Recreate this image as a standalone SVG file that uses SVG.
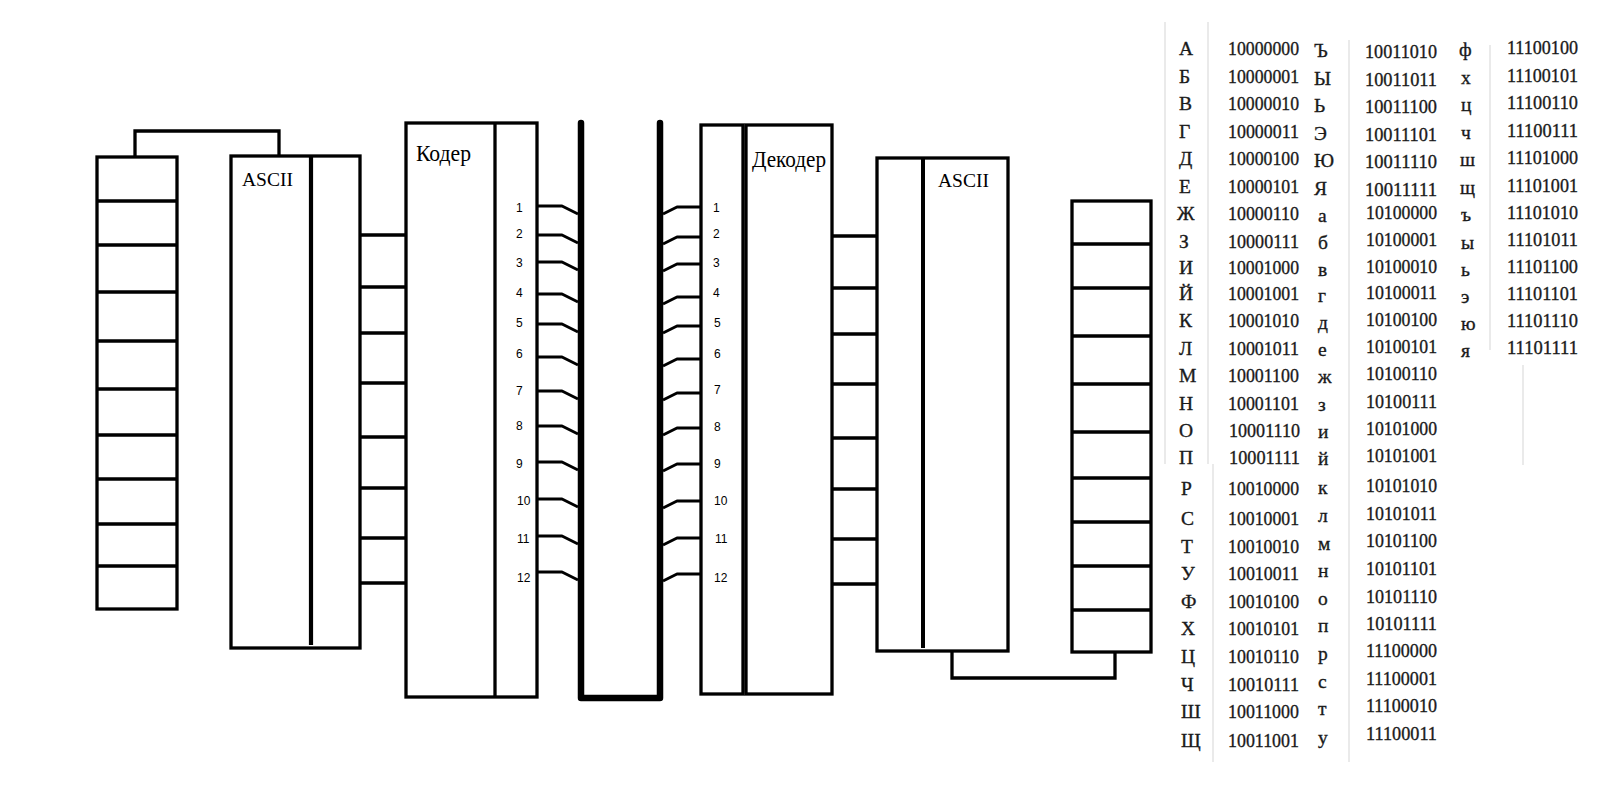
<svg xmlns="http://www.w3.org/2000/svg" width="1600" height="800" viewBox="0 0 1600 800">
<style>
.b{fill:none;stroke:#000;stroke-width:3.3}
.w{fill:none;stroke:#000;stroke-width:3;stroke-linejoin:round}
.ch{fill:none;stroke:#000;stroke-width:6.5;stroke-linecap:round;stroke-linejoin:round}
.f{fill:none;stroke:#e4e4e4;stroke-width:1.5}
.lbl{font-family:"Liberation Serif","Times New Roman",serif;fill:#000}
.pin{font-family:"Liberation Sans",Arial,sans-serif;font-size:12px;fill:#000}
.tb{font-family:"Liberation Serif","Times New Roman",serif;font-size:19.5px;fill:#1a1a1a;stroke:#1a1a1a;stroke-width:0.35}
</style>
<rect width="1600" height="800" fill="#fff"/>

<g id="keyboard-in">
<rect class="b" x="97" y="157" width="80" height="452"/>
<path class="b" d="M97,201H177M97,245H177M97,292H177M97,341H177M97,389H177M97,435H177M97,479H177M97,524H177M97,566H177"/>
</g>

<g id="ascii-in">
<rect class="b" x="231" y="156" width="129" height="492"/>
<path d="M311,156V645" stroke="#000" stroke-width="4.2" fill="none"/>
<text class="lbl" x="242" y="186" font-size="19.5">ASCII</text>
</g>

<g id="coder">
<rect class="b" x="406" y="123" width="131" height="574"/>
<path class="b" d="M495,123V697"/>
<text class="lbl" x="416" y="161" font-size="24" textLength="55" lengthAdjust="spacingAndGlyphs">Кодер</text>
<g class="pin">
<text x="516" y="212">1</text>
<text x="516" y="238">2</text>
<text x="516" y="267">3</text>
<text x="516" y="297">4</text>
<text x="516" y="327">5</text>
<text x="516" y="358">6</text>
<text x="516" y="395">7</text>
<text x="516" y="430">8</text>
<text x="516" y="468">9</text>
<text x="517" y="505">10</text>
<text x="517" y="543">11</text>
<text x="517" y="582">12</text>
</g>
</g>

<g id="channel">
<path class="ch" d="M581,123V698H660V123"/>
</g>

<g id="decoder">
<rect class="b" x="701" y="125" width="42" height="569"/>
<rect class="b" x="746" y="125" width="86" height="569"/>
<text class="lbl" x="752" y="167" font-size="24" textLength="74" lengthAdjust="spacingAndGlyphs">Декодер</text>
<g class="pin">
<text x="713" y="212">1</text>
<text x="713" y="238">2</text>
<text x="713" y="267">3</text>
<text x="713" y="297">4</text>
<text x="714" y="327">5</text>
<text x="714" y="358">6</text>
<text x="714" y="394">7</text>
<text x="714" y="431">8</text>
<text x="714" y="468">9</text>
<text x="714" y="505">10</text>
<text x="715" y="543">11</text>
<text x="714" y="582">12</text>
</g>
</g>

<g id="ascii-out">
<rect class="b" x="877" y="158" width="131" height="493"/>
<path d="M923,158V648" stroke="#000" stroke-width="4" fill="none"/>
<text class="lbl" x="938" y="187" font-size="19.5">ASCII</text>
</g>

<g id="display-out">
<rect class="b" x="1072" y="201" width="79" height="451"/>
<path class="b" d="M1072,244H1151M1072,288H1151M1072,336H1151M1072,384H1151M1072,432H1151M1072,478H1151M1072,522H1151M1072,566H1151M1072,610H1151"/>
</g>

<g id="connectors">
<path class="b" d="M135,157V131H279V156"/>
<path class="b" d="M360,235H406M360,287H406M360,333H406M360,383H406M360,437H406M360,488H406M360,538H406M360,583H406"/>
<path class="w" d="M537,206H562L578,214M537,235H562L578,243M537,262H562L578,270M537,294H562L578,302M537,324H562L578,332M537,357H562L578,365M537,391H562L578,399M537,426H562L578,434M537,462H562L578,470M537,499H562L578,507M537,536H562L578,544M537,572H562L578,580"/>
<path class="w" d="M701,207H677L663,214M701,237H677L663,244M701,264H677L663,271M701,297H677L663,304M701,326H677L663,333M701,359H677L663,366M701,393H677L663,400M701,428H677L663,435M701,464H677L663,471M701,501H677L663,508M701,538H677L663,545M701,574H677L663,581"/>
<path class="b" d="M832,236H877M832,288H877M832,334H877M832,384H877M832,438H877M832,489H877M832,539H877M832,584H877"/>
<path class="b" d="M952,651V678H1115V652"/>
</g>

<g id="table">
<path class="f" d="M1165,22V464M1208,22V464M1213,464V762M1349,40V762M1490,45V350M1523,365V465"/>
<g class="tb">
<text x="1179" y="55">А</text><text x="1228" y="55" textLength="71" lengthAdjust="spacingAndGlyphs">10000000</text>
<text x="1179" y="83">Б</text><text x="1228" y="83" textLength="71" lengthAdjust="spacingAndGlyphs">10000001</text>
<text x="1179" y="110">В</text><text x="1228" y="110" textLength="71" lengthAdjust="spacingAndGlyphs">10000010</text>
<text x="1179" y="138">Г</text><text x="1228" y="138" textLength="71" lengthAdjust="spacingAndGlyphs">10000011</text>
<text x="1179" y="165">Д</text><text x="1228" y="165" textLength="71" lengthAdjust="spacingAndGlyphs">10000100</text>
<text x="1179" y="193">Е</text><text x="1228" y="193" textLength="71" lengthAdjust="spacingAndGlyphs">10000101</text>
<text x="1177" y="220">Ж</text><text x="1228" y="220" textLength="71" lengthAdjust="spacingAndGlyphs">10000110</text>
<text x="1179" y="248">З</text><text x="1228" y="248" textLength="71" lengthAdjust="spacingAndGlyphs">10000111</text>
<text x="1179" y="274">И</text><text x="1228" y="274" textLength="71" lengthAdjust="spacingAndGlyphs">10001000</text>
<text x="1179" y="300">Й</text><text x="1228" y="300" textLength="71" lengthAdjust="spacingAndGlyphs">10001001</text>
<text x="1179" y="327">К</text><text x="1228" y="327" textLength="71" lengthAdjust="spacingAndGlyphs">10001010</text>
<text x="1179" y="355">Л</text><text x="1228" y="355" textLength="71" lengthAdjust="spacingAndGlyphs">10001011</text>
<text x="1179" y="382">М</text><text x="1228" y="382" textLength="71" lengthAdjust="spacingAndGlyphs">10001100</text>
<text x="1179" y="410">Н</text><text x="1228" y="410" textLength="71" lengthAdjust="spacingAndGlyphs">10001101</text>
<text x="1179" y="437">О</text><text x="1229" y="437" textLength="71" lengthAdjust="spacingAndGlyphs">10001110</text>
<text x="1179" y="464">П</text><text x="1229" y="464" textLength="71" lengthAdjust="spacingAndGlyphs">10001111</text>
<text x="1181" y="495">Р</text><text x="1228" y="495" textLength="71" lengthAdjust="spacingAndGlyphs">10010000</text>
<text x="1181" y="525">С</text><text x="1228" y="525" textLength="71" lengthAdjust="spacingAndGlyphs">10010001</text>
<text x="1181" y="553">Т</text><text x="1228" y="553" textLength="71" lengthAdjust="spacingAndGlyphs">10010010</text>
<text x="1181" y="580">У</text><text x="1228" y="580" textLength="71" lengthAdjust="spacingAndGlyphs">10010011</text>
<text x="1181" y="608">Ф</text><text x="1228" y="608" textLength="71" lengthAdjust="spacingAndGlyphs">10010100</text>
<text x="1181" y="635">Х</text><text x="1228" y="635" textLength="71" lengthAdjust="spacingAndGlyphs">10010101</text>
<text x="1181" y="663">Ц</text><text x="1228" y="663" textLength="71" lengthAdjust="spacingAndGlyphs">10010110</text>
<text x="1181" y="691">Ч</text><text x="1228" y="691" textLength="71" lengthAdjust="spacingAndGlyphs">10010111</text>
<text x="1181" y="718">Ш</text><text x="1228" y="718" textLength="71" lengthAdjust="spacingAndGlyphs">10011000</text>
<text x="1181" y="747">Щ</text><text x="1228" y="747" textLength="71" lengthAdjust="spacingAndGlyphs">10011001</text>

<text x="1314" y="57">Ъ</text><text x="1365" y="58" textLength="72" lengthAdjust="spacingAndGlyphs">10011010</text>
<text x="1314" y="85">Ы</text><text x="1365" y="86" textLength="72" lengthAdjust="spacingAndGlyphs">10011011</text>
<text x="1314" y="112">Ь</text><text x="1365" y="113" textLength="72" lengthAdjust="spacingAndGlyphs">10011100</text>
<text x="1314" y="140">Э</text><text x="1365" y="141" textLength="72" lengthAdjust="spacingAndGlyphs">10011101</text>
<text x="1314" y="167">Ю</text><text x="1365" y="168" textLength="72" lengthAdjust="spacingAndGlyphs">10011110</text>
<text x="1314" y="195">Я</text><text x="1365" y="196" textLength="72" lengthAdjust="spacingAndGlyphs">10011111</text>
<text x="1318" y="222">а</text><text x="1366" y="219" textLength="71" lengthAdjust="spacingAndGlyphs">10100000</text>
<text x="1318" y="249">б</text><text x="1366" y="246" textLength="71" lengthAdjust="spacingAndGlyphs">10100001</text>
<text x="1318" y="276">в</text><text x="1366" y="273" textLength="71" lengthAdjust="spacingAndGlyphs">10100010</text>
<text x="1318" y="302">г</text><text x="1366" y="299" textLength="71" lengthAdjust="spacingAndGlyphs">10100011</text>
<text x="1318" y="329">д</text><text x="1366" y="326" textLength="71" lengthAdjust="spacingAndGlyphs">10100100</text>
<text x="1318" y="356">е</text><text x="1366" y="353" textLength="71" lengthAdjust="spacingAndGlyphs">10100101</text>
<text x="1318" y="383">ж</text><text x="1366" y="380" textLength="71" lengthAdjust="spacingAndGlyphs">10100110</text>
<text x="1318" y="411">з</text><text x="1366" y="408" textLength="71" lengthAdjust="spacingAndGlyphs">10100111</text>
<text x="1318" y="438">и</text><text x="1366" y="435" textLength="71" lengthAdjust="spacingAndGlyphs">10101000</text>
<text x="1318" y="465">й</text><text x="1366" y="462" textLength="71" lengthAdjust="spacingAndGlyphs">10101001</text>
<text x="1318" y="494">к</text><text x="1366" y="492" textLength="71" lengthAdjust="spacingAndGlyphs">10101010</text>
<text x="1318" y="522">л</text><text x="1366" y="520" textLength="71" lengthAdjust="spacingAndGlyphs">10101011</text>
<text x="1318" y="550">м</text><text x="1366" y="547" textLength="71" lengthAdjust="spacingAndGlyphs">10101100</text>
<text x="1318" y="577">н</text><text x="1366" y="575" textLength="71" lengthAdjust="spacingAndGlyphs">10101101</text>
<text x="1318" y="605">о</text><text x="1366" y="603" textLength="71" lengthAdjust="spacingAndGlyphs">10101110</text>
<text x="1318" y="632">п</text><text x="1366" y="630" textLength="71" lengthAdjust="spacingAndGlyphs">10101111</text>
<text x="1318" y="660">р</text><text x="1366" y="657" textLength="71" lengthAdjust="spacingAndGlyphs">11100000</text>
<text x="1318" y="688">с</text><text x="1366" y="685" textLength="71" lengthAdjust="spacingAndGlyphs">11100001</text>
<text x="1318" y="715">т</text><text x="1366" y="712" textLength="71" lengthAdjust="spacingAndGlyphs">11100010</text>
<text x="1318" y="744">у</text><text x="1366" y="740" textLength="71" lengthAdjust="spacingAndGlyphs">11100011</text>

<text x="1459" y="56">ф</text><text x="1507" y="54" textLength="71" lengthAdjust="spacingAndGlyphs">11100100</text>
<text x="1461" y="84">х</text><text x="1507" y="82" textLength="71" lengthAdjust="spacingAndGlyphs">11100101</text>
<text x="1461" y="111">ц</text><text x="1507" y="109" textLength="71" lengthAdjust="spacingAndGlyphs">11100110</text>
<text x="1461" y="139">ч</text><text x="1507" y="137" textLength="71" lengthAdjust="spacingAndGlyphs">11100111</text>
<text x="1460" y="166">ш</text><text x="1507" y="164" textLength="71" lengthAdjust="spacingAndGlyphs">11101000</text>
<text x="1460" y="194">щ</text><text x="1507" y="192" textLength="71" lengthAdjust="spacingAndGlyphs">11101001</text>
<text x="1461" y="221">ъ</text><text x="1507" y="219" textLength="71" lengthAdjust="spacingAndGlyphs">11101010</text>
<text x="1461" y="249">ы</text><text x="1507" y="246" textLength="71" lengthAdjust="spacingAndGlyphs">11101011</text>
<text x="1461" y="276">ь</text><text x="1507" y="273" textLength="71" lengthAdjust="spacingAndGlyphs">11101100</text>
<text x="1461" y="303">э</text><text x="1507" y="300" textLength="71" lengthAdjust="spacingAndGlyphs">11101101</text>
<text x="1461" y="330">ю</text><text x="1507" y="327" textLength="71" lengthAdjust="spacingAndGlyphs">11101110</text>
<text x="1461" y="357">я</text><text x="1507" y="354" textLength="71" lengthAdjust="spacingAndGlyphs">11101111</text>
</g>
</g>
</svg>
